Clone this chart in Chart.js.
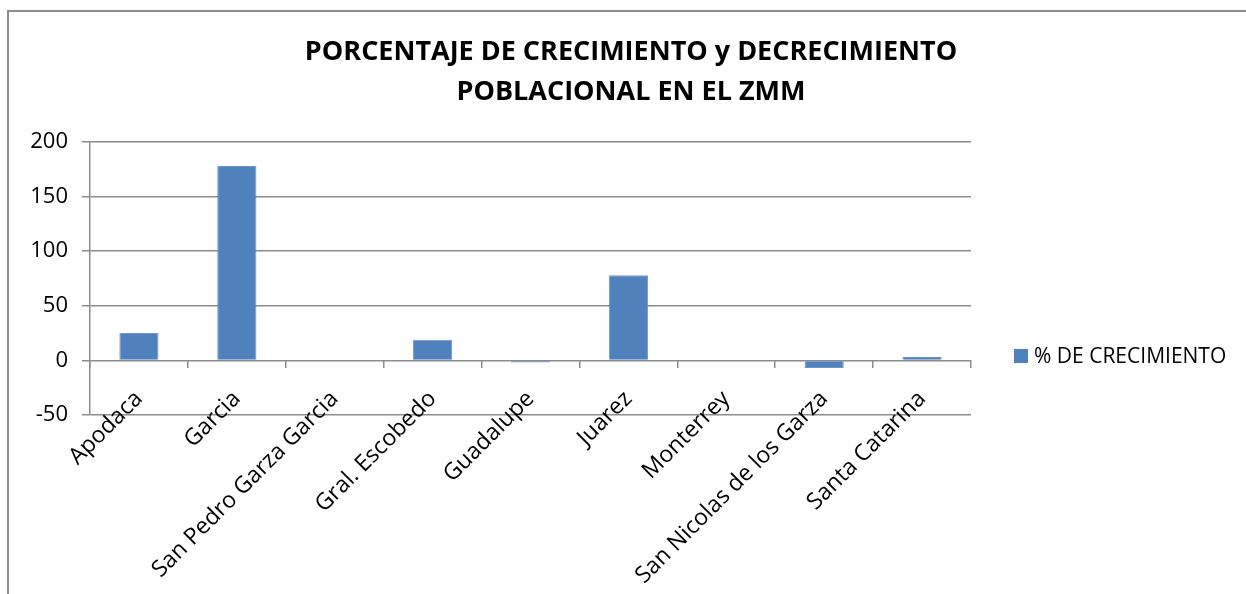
<!DOCTYPE html>
<html lang="es">
<head>
<meta charset="UTF-8">
<title>Porcentaje de crecimiento</title>
<script src="https://cdn.jsdelivr.net/npm/chart.js@4.4.1/dist/chart.umd.min.js"></script>
<style>
  body { margin: 0; background: #fff; font-family: "Open Sans", sans-serif; }
  #wrap { position: relative; width: 1246px; height: 594px; overflow: hidden; }
  #frame { position: absolute; left: 7px; top: 10px; width: 1300px; height: 700px;
           border-left: 2px solid #8c8c8c; border-top: 2px solid #8c8c8c; }
  #title { position: absolute; left: 0; width: 1262px; top: 30px; text-align: center;
           font-weight: bold; font-size: 27px; line-height: 40px; color: #000; }
  #legend { position: absolute; left: 1014px; top: 341px; font-size: 21px; color: #000;
            white-space: nowrap; }
  #legend span.box { display: inline-block; width: 14px; height: 14px; background: #4F81BD;
                     margin-right: 6px; vertical-align: 0px; }
  canvas { position: absolute; left: 0; top: 0; }
</style>
</head>
<body>
<div id="wrap">
  <div id="frame"></div>
  <canvas id="chart" width="1246" height="594"></canvas>
  <div id="title">PORCENTAJE DE CRECIMIENTO y DECRECIMIENTO<br>POBLACIONAL EN EL ZMM</div>
  <div id="legend"><span class="box"></span>% DE CRECIMIENTO</div>
</div>
<script>
const municipios = ['Apodaca', 'Garcia', 'San Pedro Garza Garcia', 'Gral. Escobedo', 'Guadalupe',
                    'Juarez', 'Monterrey', 'San Nicolas de los Garza', 'Santa Catarina'];
const crecimiento = [25, 178, 0, 19, -2, 78, 0, -7, 3];
const serieLabel = '% DE CRECIMIENTO';
const yMin = -50, yMax = 200, yStep = 50;

const gridColor = '#8c8c8c';

new Chart(document.getElementById('chart'), {
  type: 'bar',
  data: {
    labels: municipios,
    datasets: [{
      label: serieLabel,
      data: crecimiento,
      backgroundColor: '#4F81BD',
      borderColor: '#6c95c8',
      borderWidth: 1,
      categoryPercentage: 1,
      barPercentage: 0.4
    }]
  },
  options: {
    responsive: false,
    animation: false,
    layout: { padding: { left: 0, top: 142, right: 275, bottom: 179 } },
    plugins: { legend: { display: false }, title: { display: false }, tooltip: { enabled: false } },
    scales: {
      x: {
        position: { y: 0 },   // eje de categorias sobre el cero, como en Excel
        grid: { display: true, drawOnChartArea: false, drawTicks: true, tickLength: 8,
                color: gridColor, lineWidth: 1.5 },
        border: { display: false },
        ticks: {
          color: '#000', font: { family: 'Open Sans', size: 23 },
          minRotation: 45, maxRotation: 45, autoSkip: false, padding: 17
        }
      },
      y: {
        min: yMin, max: yMax,
        grid: { color: gridColor, lineWidth: 1.5, tickLength: 8 },
        border: { color: gridColor, width: 1.5 },
        ticks: { stepSize: yStep, color: '#000', font: { family: 'Open Sans', size: 22 }, padding: 14 },
        afterFit: s => { s.width = 90; }
      }
    }
  }
});
</script>
</body>
</html>
